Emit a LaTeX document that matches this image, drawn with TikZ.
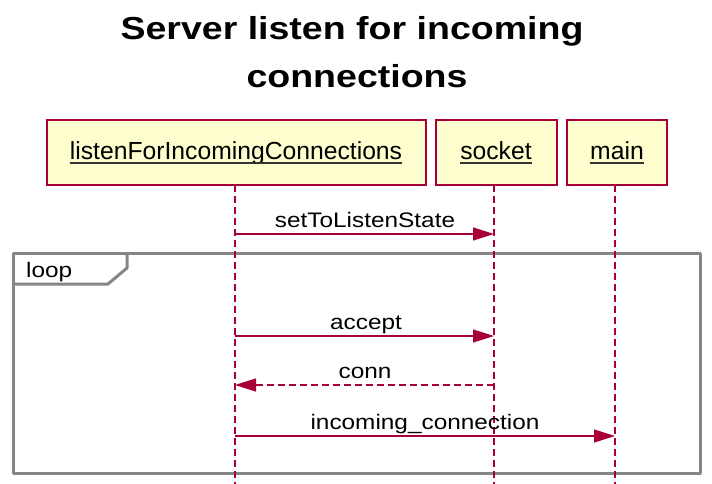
\documentclass[tikz,border=0pt]{standalone}
\usepackage{fontspec}
\usetikzlibrary{arrows.meta}
\newfontfamily\titlefont{Liberation Sans}[FakeStretch=1.18]
\newfontfamily\msgfont{Liberation Sans}[FakeStretch=1.16]
\newfontfamily\partfont{Liberation Sans}
\definecolor{umlred}{HTML}{A80036}
\definecolor{umlfill}{HTML}{FEFECE}
\definecolor{framegrey}{HTML}{868686}
\tikzset{
  titletext/.style={inner sep=0pt, anchor=base, font=\titlefont\bfseries\fontsize{31.8}{36}\selectfont},
  partbox/.style={draw=umlred, fill=umlfill, line width=1.5pt, inner sep=0pt},
  parttext/.style={inner sep=0pt, anchor=base, font=\partfont\fontsize{24.7}{28}\selectfont},
  msgtext/.style={inner sep=0pt, anchor=base, font=\msgfont\fontsize{21}{24}\selectfont},
  lifeline/.style={draw=umlred, line width=1.2pt, dash pattern=on 7pt off 4pt},
  msg/.style={draw=umlred, line width=1.3pt, -{Triangle[length=21pt,width=13pt]}},
  retmsg/.style={msg, dash pattern=on 7pt off 4pt},
  frameline/.style={draw=framegrey, line width=3pt, line join=round}
}
\begin{document}
\begin{tikzpicture}[x=1pt,y=1pt]
\useasboundingbox (0,0) rectangle (712,-484);
% title
\node[titletext] (t1) at (352,-40) {Server listen for incoming};
\node[titletext] (t2) at (357,-88) {connections};
% loop frame
\draw[frameline] (13,-253) rectangle (700,-473);
\draw[frameline] (13,-284) -- (108,-284) -- (127,-268) -- (127,-253);
\node[msgtext, anchor=base west] (looplbl) at (26,-277) {loop};
% lifelines
\coordinate (l1top) at (235,-185); \coordinate (l1bot) at (235,-484);
\coordinate (l2top) at (494,-185); \coordinate (l2bot) at (494,-484);
\coordinate (l3top) at (615,-185); \coordinate (l3bot) at (615,-484);
\draw[lifeline] (l1top) -- (l1bot);
\draw[lifeline] (l2top) -- (l2bot);
\draw[lifeline] (l3top) -- (l3bot);
% participants
\node[partbox, minimum width=379pt, minimum height=65pt] (p1) at (236.5,-152.5) {};
\node[partbox, minimum width=121pt, minimum height=65pt] (p2) at (496.5,-152.5) {};
\node[partbox, minimum width=100pt, minimum height=65pt] (p3) at (617,-152.5) {};
\node[parttext] (p1t) at (236,-160) {listenForIncomingConnections};
\node[parttext] (p2t) at (496,-160) {socket};
\node[parttext] (p3t) at (617,-160) {main};
\foreach \n in {p1t,p2t,p3t}{
  \draw[line width=1.2pt, black!80] ([yshift=-3pt]\n.base west) -- ([yshift=-3pt]\n.base east);
}
% messages
\coordinate (m1a) at (235,-234); \coordinate (m1b) at (494,-234);
\coordinate (m2a) at (235,-336); \coordinate (m2b) at (494,-336);
\coordinate (m3a) at (494,-385); \coordinate (m3b) at (235,-385);
\coordinate (m4a) at (235,-436); \coordinate (m4b) at (615,-436);
\draw[msg] (m1a) -- (m1b);
\draw[msg] (m2a) -- (m2b);
\draw[retmsg] (m3a) -- (m3b);
\draw[msg] (m4a) -- (m4b);
\node[msgtext] (m1l) at (365,-227) {setToListenState};
\node[msgtext] (m2l) at (366,-329) {accept};
\node[msgtext] (m3l) at (365,-378) {conn};
\node[msgtext] (m4l) at (425,-429) {incoming\_connection};
\end{tikzpicture}
\end{document}
